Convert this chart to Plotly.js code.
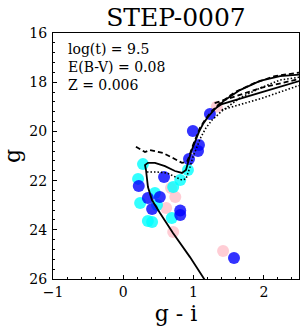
<!DOCTYPE html>
<html>
<head>
<meta charset="utf-8">
<script src="https://cdn.plot.ly/plotly-3.0.1.min.js"></script>
<style>html,body{margin:0;padding:0;background:#fff}#chart{width:307px;height:326px}</style>
</head>
<body>
<div id="chart"></div>
<script>
// Observed stars (g - i, g)
const blueX = [1.233, 0.99, 1.077, 1.063, 0.935, 0.58, 0.22, 0.35, 0.52, 0.41, 0.81, 0.81, 1.575];
const blueY = [19.29, 19.98, 20.55, 20.80, 21.12, 21.85, 22.22, 22.71, 22.67, 23.15, 23.22, 23.40, 25.15];
const cyanX = [0.28, 0.21, 0.92, 0.81, 0.71, 0.45, 0.24, 0.48, 0.35, 0.41, 0.69];
const cyanY = [21.33, 21.93, 21.57, 21.98, 22.26, 22.5, 22.91, 22.99, 23.64, 23.68, 23.52];
const pinkX = [1.33, 0.74, 0.68, 0.61, 0.71, 1.42];
const pinkY = [19.0, 22.67, 22.3, 23.11, 24.09, 24.86];

// Isochrone: solid (main sequence, turnoff, RGB; then AGB segment)
const solidX = [1.25, 1.16, 0.949, 0.707, 0.522, 0.408, 0.351, 0.337, 0.323, 0.309, 0.351, 0.451, 0.593, 0.735, 0.835, 0.892, 0.92, 0.963, 1.02, 1.077, 1.134, 1.205, 1.304, 1.447, 1.66, 1.945, 2.23, 2.5, 2.8,
                null, 1.33, 1.404, 1.973, 2.51, 2.8];
const solidY = [26.5, 26.04, 25.11, 24.13, 23.32, 22.79, 22.26, 21.85, 21.57, 21.37, 21.28, 21.28, 21.41, 21.61, 21.69, 21.57, 21.28, 20.84, 20.43, 20.02, 19.70, 19.41, 19.09, 18.72, 18.32, 17.95, 17.75, 17.67, 17.63,
                null, 19.02, 18.89, 18.40, 17.95, 17.78];
// Isochrone: dashed
const dashX = [0.18, 0.309, 0.38, 0.565, 0.707, 0.835, 0.906, 0.935, 0.977, 1.034, 1.09, 1.16, 1.248, 1.376, 1.589, 1.873, 2.158, 2.5, 2.8,
               null, 1.30, 1.973, 2.5, 2.8];
const dashY = [20.62, 20.84, 20.76, 20.88, 21.08, 21.28, 21.24, 21.04, 20.67, 20.27, 19.86, 19.54, 19.21, 18.85, 18.40, 18.03, 17.75, 17.61, 17.55,
               null, 18.85, 18.22, 17.87, 17.70];
// Isochrone: dotted
const dotX = [0.337, 0.479, 0.622, 0.735, 0.835, 0.892, 0.92, 0.949, 0.991, 1.048, 1.105, 1.176, 1.262, 1.404, 1.66, 1.945, 2.23, 2.5, 2.8,
              null, 1.40, 1.447, 1.973, 2.485, 2.8];
const dotY = [21.65, 21.65, 21.69, 21.85, 21.98, 21.93, 21.73, 21.45, 21.04, 20.63, 20.23, 19.86, 19.54, 19.17, 18.64, 18.24, 17.91, 17.80, 17.72,
              null, 19.12, 19.09, 18.65, 18.15, 17.98];

const xTicks = [-1, 0, 1, 2];
const yTicks = [16, 18, 20, 22, 24, 26];
const infoLines = ['log(t) = 9.5', 'E(B-V) = 0.08', 'Z = 0.006'];

const serif = 'DejaVu Serif';
function stars(x, y, color) {
  return {x: x, y: y, type: 'scatter', mode: 'markers', showlegend: false,
    marker: {color: color, size: 12, opacity: 0.8, line: {width: 0}}, hoverinfo: 'skip'};
}
function iso(x, y, dash, w) {
  return {x: x, y: y, type: 'scatter', mode: 'lines', showlegend: false, connectgaps: false,
    line: {color: 'black', width: w, dash: dash}, hoverinfo: 'skip'};
}
const traces = [
  stars(pinkX, pinkY, 'pink'),
  stars(cyanX, cyanY, 'cyan'),
  stars(blueX, blueY, 'blue'),
  iso(solidX, solidY, 'solid', 1.8),
  iso(dashX, dashY, '5px,3px', 1.8),
  iso(dotX, dotY, '1.5px,2px', 1.6)
];
const axisCommon = {
  showgrid: false, zeroline: false, showline: true, mirror: true, linecolor: 'black', linewidth: 1,
  ticks: 'inside', ticklen: 4, tickcolor: 'black', tickwidth: 1,
  tickfont: {family: serif, size: 14, color: 'black'}
};
const layout = {
  width: 307, height: 326,
  margin: {l: 53, r: 8, t: 33, b: 47},
  paper_bgcolor: 'white', plot_bgcolor: 'white',
  title: {text: 'STEP-0007', font: {family: serif, size: 25, color: 'black'},
    x: 0.5, xref: 'paper', xanchor: 'center', y: 0.948, yref: 'container', yanchor: 'middle'},
  xaxis: Object.assign({}, axisCommon, {
    range: [-1, 2.5], tickvals: xTicks,
    minor: {ticks: 'inside', dtick: 0.2, tick0: 0, ticklen: 2, tickcolor: 'black'},
    title: {text: 'g - i', font: {family: serif, size: 22, color: 'black'}, standoff: 6}
  }),
  yaxis: Object.assign({}, axisCommon, {
    range: [26, 16], tickvals: yTicks, ticklabelstandoff: 2,
    minor: {ticks: 'inside', dtick: 0.4, tick0: 16, ticklen: 2, tickcolor: 'black'},
    title: {text: 'g', font: {family: serif, size: 22, color: 'black'}, standoff: 6}
  }),
  annotations: [{
    text: infoLines.join('<br>'), xref: 'paper', yref: 'paper', x: 0.053, y: 0.975,
    xanchor: 'left', yanchor: 'top', align: 'left', showarrow: false,
    font: {family: serif, size: 14, color: 'black'}
  }]
};
Plotly.newPlot('chart', traces, layout, {staticPlot: true, displayModeBar: false});
</script>
</body>
</html>
